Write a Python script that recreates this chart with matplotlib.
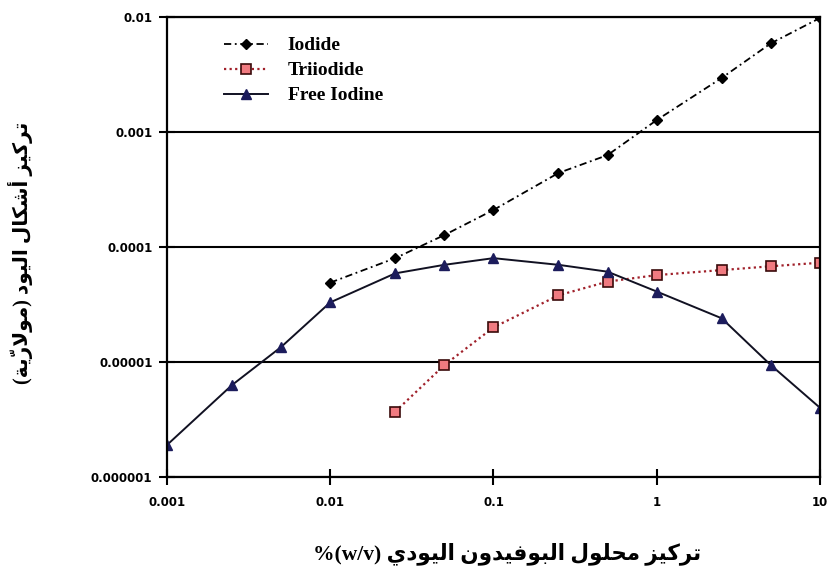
import matplotlib
matplotlib.use("Agg")
import matplotlib.pyplot as plt
from matplotlib.ticker import FixedLocator, NullLocator

# concentration of povidone-iodine solution, % (w/v)
x_iodide = [0.01, 0.025, 0.05, 0.1, 0.25, 0.5, 1, 2.5, 5, 10]
y_iodide = [4.9e-5, 8.0e-5, 1.27e-4, 2.1e-4, 4.4e-4, 6.3e-4, 1.27e-3, 2.95e-3, 5.9e-3, 9.8e-3]

x_triiodide = [0.025, 0.05, 0.1, 0.25, 0.5, 1, 2.5, 5, 10]
y_triiodide = [3.7e-6, 9.4e-6, 2.0e-5, 3.8e-5, 5.0e-5, 5.7e-5, 6.3e-5, 6.8e-5, 7.3e-5]

x_free = [0.001, 0.0025, 0.005, 0.01, 0.025, 0.05, 0.1, 0.25, 0.5, 1, 2.5, 5, 10]
y_free = [1.9e-6, 6.3e-6, 1.35e-5, 3.3e-5, 5.9e-5, 7.0e-5, 8.0e-5, 7.0e-5, 6.1e-5, 4.1e-5, 2.4e-5, 9.4e-6, 4.0e-6]

series_names = ["Iodide", "Triiodide", "Free Iodine"]
x_ticks = [0.001, 0.01, 0.1, 1, 10]
x_tick_labels = ["0.001", "0.01", "0.1", "1", "10"]
y_ticks = [1e-6, 1e-5, 1e-4, 1e-3, 1e-2]
y_tick_labels = ["0.000001", "0.00001", "0.0001", "0.001", "0.01"]

xlabel_ar = "تركيز محلول البوفيدون اليودي"
xlabel_latin = "%(w/v) "
ylabel_ar = "تركيز أشكال اليود (مولاريّة)"

# matplotlib has no arabic shaping, so pick presentation forms by hand
# (isolated, final, initial, medial)
FORMS = {
    "ا": ("\uFE8D", "\uFE8E", None, None),
    "أ": ("\uFE83", "\uFE84", None, None),
    "ب": ("\uFE8F", "\uFE90", "\uFE91", "\uFE92"),
    "ة": ("\uFE93", "\uFE94", None, None),
    "ت": ("\uFE95", "\uFE96", "\uFE97", "\uFE98"),
    "ح": ("\uFEA1", "\uFEA2", "\uFEA3", "\uFEA4"),
    "د": ("\uFEA9", "\uFEAA", None, None),
    "ر": ("\uFEAD", "\uFEAE", None, None),
    "ز": ("\uFEAF", "\uFEB0", None, None),
    "ش": ("\uFEB5", "\uFEB6", "\uFEB7", "\uFEB8"),
    "ف": ("\uFED1", "\uFED2", "\uFED3", "\uFED4"),
    "ك": ("\uFED9", "\uFEDA", "\uFEDB", "\uFEDC"),
    "ل": ("\uFEDD", "\uFEDE", "\uFEDF", "\uFEE0"),
    "م": ("\uFEE1", "\uFEE2", "\uFEE3", "\uFEE4"),
    "ن": ("\uFEE5", "\uFEE6", "\uFEE7", "\uFEE8"),
    "و": ("\uFEED", "\uFEEE", None, None),
    "ي": ("\uFEF1", "\uFEF2", "\uFEF3", "\uFEF4"),
}
MARKS = {"\u0651"}
LAM_ALEF = ("\uFEFB", "\uFEFC")


def rtl(s):
    letters = [c for c in s]
    n = len(letters)

    def prev_letter(i):
        j = i - 1
        while j >= 0 and letters[j] in MARKS:
            j -= 1
        return letters[j] if j >= 0 else None

    def next_letter(i):
        j = i + 1
        while j < n and letters[j] in MARKS:
            j += 1
        return letters[j] if j < n else None

    out = []
    i = 0
    while i < n:
        c = letters[i]
        if c not in FORMS:
            out.append(c)
            i += 1
            continue
        p = prev_letter(i)
        joins_prev = p in FORMS and FORMS[p][2] is not None
        nx_ = next_letter(i)
        if c == "ل" and nx_ in ("ا", "أ"):
            out.append(LAM_ALEF[1] if joins_prev else LAM_ALEF[0])
            i += 2
            continue
        joins_next = nx_ in FORMS and FORMS[c][2] is not None
        iso, fin, ini, med = FORMS[c]
        if joins_prev and joins_next:
            out.append(med)
        elif joins_prev:
            out.append(fin)
        elif joins_next:
            out.append(ini)
        else:
            out.append(iso)
        i += 1
    out = out[::-1]
    # keep combining marks right after their base in visual order
    j = 0
    while j < len(out) - 1:
        if out[j] in MARKS:
            out[j], out[j + 1] = out[j + 1], out[j]
            j += 2
        else:
            j += 1
    swap = {"(": ")", ")": "("}
    return "".join(swap.get(c, c) for c in out)


fig = plt.figure(figsize=(8.35, 5.78), dpi=100)
ax = fig.add_axes([0.2, 0.1747, 0.782, 0.7959])

ax.plot(x_iodide, y_iodide, color="black", linestyle=(0, (4, 2, 1, 2)), linewidth=1.3,
        marker="D", markersize=5, markerfacecolor="black", markeredgecolor="black",
        label=series_names[0])
ax.plot(x_triiodide, y_triiodide, color="#a0202a", linestyle=(0, (1, 1.5)), linewidth=1.6,
        marker="s", markersize=6.5, markerfacecolor="#f07a80", markeredgecolor="#3a0a0a",
        markeredgewidth=1.2, label=series_names[1])
ax.plot(x_free, y_free, color="#111122", linestyle="-", linewidth=1.4,
        marker="^", markersize=7, markerfacecolor="#1c1c5c", markeredgecolor="#1c1c5c",
        label=series_names[2])

ax.set_xscale("log")
ax.set_yscale("log")
ax.set_xlim(0.001, 10)
ax.set_ylim(1e-6, 1e-2)

ax.xaxis.set_major_locator(FixedLocator(x_ticks))
ax.xaxis.set_minor_locator(NullLocator())
ax.yaxis.set_major_locator(FixedLocator(y_ticks))
ax.yaxis.set_minor_locator(NullLocator())
ax.set_xticklabels(x_tick_labels)
ax.set_yticklabels(y_tick_labels)
for lab in ax.get_xticklabels() + ax.get_yticklabels():
    lab.set_fontweight("bold")
    lab.set_fontsize(8.5)
ax.tick_params(direction="inout", length=11, width=1.5, colors="black")
ax.tick_params(axis="y", pad=5)
ax.tick_params(axis="x", pad=8)

ax.yaxis.grid(True, color="black", linewidth=1.5)
ax.set_axisbelow(True)
for sp in ax.spines.values():
    sp.set_linewidth(1.6)
    sp.set_color("black")

ax.legend(loc="upper left", bbox_to_anchor=(0.06, 0.995), frameon=False,
          prop={"family": "Liberation Serif", "weight": "bold", "size": 14},
          handlelength=2.3, labelspacing=0.38, handletextpad=1.0)

lab_fonts = ["Liberation Serif", "DejaVu Sans"]
fig.text(0.607, 0.043, xlabel_latin + rtl(xlabel_ar), ha="center", va="center",
         family=lab_fonts, fontweight="bold", fontsize=15.5)
fig.text(0.024, 0.562, rtl(ylabel_ar), ha="center", va="center", rotation=90,
         family=lab_fonts, fontweight="bold", fontsize=14.5)

fig.savefig("out.png", dpi=100)
